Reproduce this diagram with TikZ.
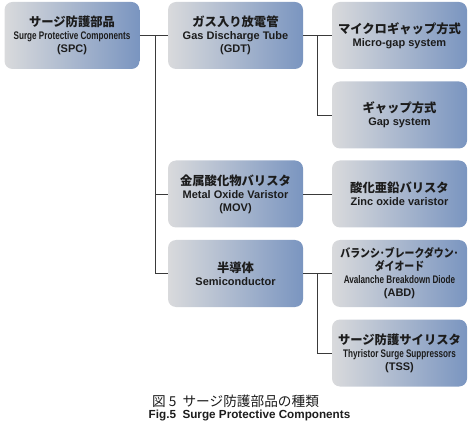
\documentclass[tikz,border=0pt]{standalone}
\usepackage{fontspec}
\setmainfont{Liberation Sans}
\newfontfamily\jp{Noto Sans CJK JP}[Scale=1.12]
\newfontfamily\jpnarrow{Noto Sans CJK JP}[FakeStretch=0.86]
\newfontfamily\narrow{Liberation Sans}[FakeStretch=0.74]
\definecolor{ink}{HTML}{1C1C1C}
\definecolor{wire}{HTML}{3A3A3A}
\definecolor{boxl}{HTML}{D9DADC}
\definecolor{boxr}{HTML}{7A95C0}

\begin{document}
\begin{tikzpicture}[
  x=1pt, y=1pt, text=ink,
  comp/.style={rounded corners=8pt, left color=boxl, right color=boxr,
    minimum width=135pt, minimum height=67pt, inner sep=2pt,
    align=center, font=\bfseries\fontsize{11}{13}\selectfont},
  link/.style={draw=wire, line width=.8pt},
  caption/.style={align=center, inner sep=0pt}
]
  \useasboundingbox (0,0) rectangle (473,-427);
  % first column
  \node[comp] (spc) at (72,-35.5)
    {{\jp サージ防護部品}\\{\narrow Surge Protective Components}\\(SPC)};
  % second column
  \node[comp] (gdt) at (235.5,-35.5)
    {{\jp ガス入り放電管}\\Gas Discharge Tube\\(GDT)};
  \node[comp] (mov) at (235.5,-194)
    {{\jp 金属酸化物バリスタ}\\Metal Oxide Varistor\\(MOV)};
  \node[comp] (semi) at (235.5,-273.5)
    {{\jp 半導体}\\Semiconductor};
  % third column
  \node[comp] (micro) at (399.5,-35.5)
    {{\jp マイクロギャップ方式}\\Micro-gap system};
  \node[comp] (gap) at (399.5,-115)
    {{\jp ギャップ方式}\\Gap system};
  \node[comp] (zinc) at (399.5,-194)
    {{\jp 酸化亜鉛バリスタ}\\Zinc oxide varistor};
  \node[comp] (abd) at (399.5,-273.5)
    {{\jpnarrow\fontsize{11.5}{13}\selectfont バランシ･ブレークダウン･}\\{\jpnarrow\fontsize{11.5}{13}\selectfont ダイオード}\\{\narrow Avalanche Breakdown Diode}\\(ABD)};
  \node[comp] (tss) at (399.5,-353)
    {{\jp サージ防護サイリスタ}\\{\narrow Thyristor Surge Suppressors}\\(TSS)};
  % connectors
  \coordinate (trunk) at (155,-35.5);
  \coordinate (gdtfork) at (317,-35.5);
  \coordinate (semifork) at (317,-273.5);
  \draw[link] (spc.east) -- (gdt.west);
  \draw[link] (trunk) |- (mov.west);
  \draw[link] (trunk) |- (semi.west);
  \draw[link] (gdt.east) -- (micro.west);
  \draw[link] (gdtfork) |- (gap.west);
  \draw[link] (mov.east) -- (zinc.west);
  \draw[link] (semi.east) -- (abd.west);
  \draw[link] (semifork) |- (tss.west);
  % caption
  \node[caption, font=\fontsize{12.2}{13}\selectfont] (capjp) at (235.5,-401)
    {\jp 図 5\ \ サージ防護部品の種類};
  \node[caption, font=\bfseries\fontsize{11.7}{13}\selectfont] (capen) at (249.5,-415)
    {Fig.5\ \ Surge Protective Components};
\end{tikzpicture}
\end{document}
